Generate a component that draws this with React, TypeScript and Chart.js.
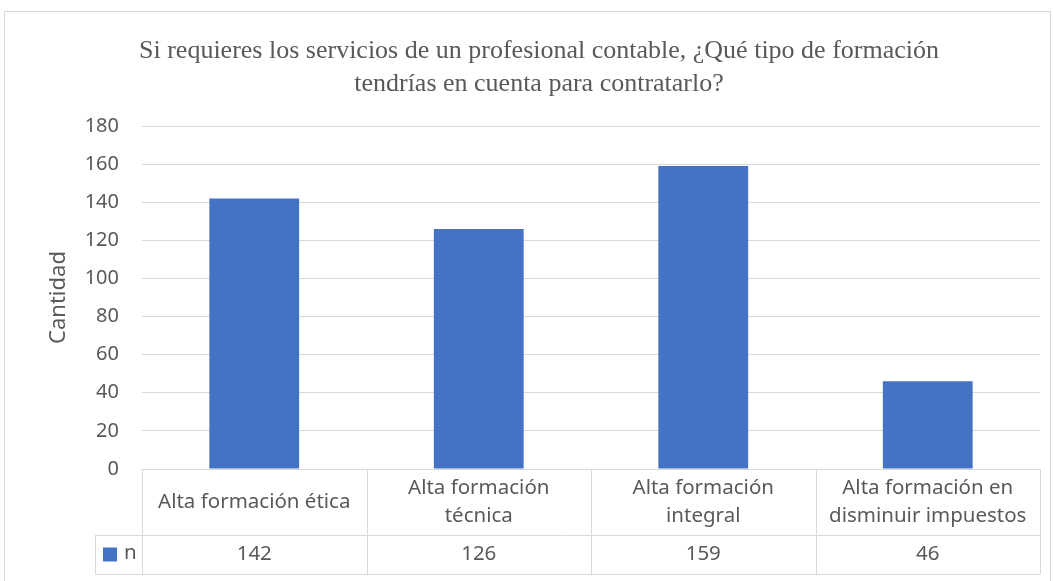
import React, { useEffect, useRef } from "react";
import { Chart, registerables } from "chart.js";

Chart.register(...registerables);

const titleLines = [
  "Si requieres los servicios de un profesional contable, ¿Qué tipo de formación",
  "tendrías en cuenta para contratarlo?",
];
const categories = [
  ["Alta formación ética"],
  ["Alta formación", "técnica"],
  ["Alta formación", "integral"],
  ["Alta formación en", "disminuir impuestos"],
];
const seriesName = "n";
const values = [142, 126, 159, 46];
const yTitle = "Cantidad";

const BAR = "#4472C4";
const GRID = "#d9d9d9";
const TEXT = "#595959";
const SANS = "'Noto Sans', sans-serif";

const framePlugin = {
  id: "frame",
  beforeDraw(chart: any) {
    const ctx = chart.ctx;
    ctx.save();
    ctx.fillStyle = "#ffffff";
    ctx.fillRect(0, 0, chart.width, chart.height);
    ctx.strokeStyle = GRID;
    ctx.lineWidth = 1;
    ctx.strokeRect(4.5, 11.5, 1046, 600);
    ctx.restore();
  },
};

const tablePlugin = {
  id: "dataTable",
  afterDraw(chart: any) {
    const ctx = chart.ctx;
    const { left, right, bottom } = chart.chartArea;
    const xs = chart.scales.x;
    const n = categories.length;
    const w = (right - left) / n;
    const headBottom = bottom + 66;
    const rowBottom = headBottom + 39;
    const legendLeft = left - 47;
    ctx.save();
    ctx.strokeStyle = GRID;
    ctx.lineWidth = 1;
    ctx.beginPath();
    ctx.moveTo(left, bottom + 0.5);
    ctx.lineTo(right, bottom + 0.5);
    ctx.moveTo(legendLeft, headBottom + 0.5);
    ctx.lineTo(right, headBottom + 0.5);
    ctx.moveTo(legendLeft, rowBottom + 0.5);
    ctx.lineTo(right, rowBottom + 0.5);
    for (let i = 0; i <= n; i++) {
      const x = Math.round(left + i * w) + 0.5;
      ctx.moveTo(x, bottom);
      ctx.lineTo(x, rowBottom);
    }
    ctx.moveTo(legendLeft + 0.5, headBottom);
    ctx.lineTo(legendLeft + 0.5, rowBottom);
    ctx.stroke();

    ctx.fillStyle = TEXT;
    ctx.font = `20.5px ${SANS}`;
    ctx.textAlign = "center";
    ctx.textBaseline = "middle";
    const headMid = (bottom + headBottom) / 2;
    const rowMid = (headBottom + rowBottom) / 2;
    categories.forEach((lines, i) => {
      const cx = xs.getPixelForValue(i);
      const lh = 28;
      const y0 = headMid - ((lines.length - 1) * lh) / 2;
      lines.forEach((t, j) => ctx.fillText(t, cx, y0 + j * lh));
      ctx.fillText(String(values[i]), cx, rowMid);
    });
    ctx.fillStyle = BAR;
    ctx.fillRect(legendLeft + 8, rowMid - 7, 14, 14);
    ctx.fillStyle = TEXT;
    ctx.textAlign = "left";
    ctx.fillText(seriesName, legendLeft + 29, rowMid - 1);
    ctx.restore();
  },
};

export default function App() {
  const ref = useRef<HTMLCanvasElement>(null);
  useEffect(() => {
    document.body.style.margin = "0";
    const chart = new Chart(ref.current!, {
      type: "bar",
      data: {
        labels: categories.map((c) => c.join(" ")),
        datasets: [
          {
            label: seriesName,
            data: values,
            backgroundColor: BAR,
            barPercentage: 0.4,
            categoryPercentage: 1,
          },
        ],
      },
      options: {
        responsive: false,
        animation: false,
        layout: { padding: { left: 38, right: 13, top: 35, bottom: 112 } },
        plugins: {
          legend: { display: false },
          tooltip: { enabled: false },
          title: {
            display: true,
            text: titleLines,
            color: TEXT,
            font: { family: "'Liberation Serif', 'Times New Roman', serif", size: 26, weight: "normal", lineHeight: 1.25 },
            padding: { top: 0, bottom: 26 },
          },
        },
        scales: {
          x: { display: false },
          y: {
            min: 0,
            max: 180,
            ticks: { stepSize: 20, color: TEXT, font: { family: SANS, size: 20 }, padding: 23 },
            grid: { color: GRID, drawTicks: false },
            border: { display: false },
            title: {
              display: true,
              text: yTitle,
              color: TEXT,
              font: { family: SANS, size: 22 },
              padding: { top: 8, bottom: 0 },
            },
            afterFit: (s: any) => {
              s.width = 104;
            },
          },
        },
      },
      plugins: [framePlugin, tablePlugin],
    });
    return () => chart.destroy();
  }, []);
  return <canvas ref={ref} width={1053} height={581} style={{ display: "block" }} />;
}
